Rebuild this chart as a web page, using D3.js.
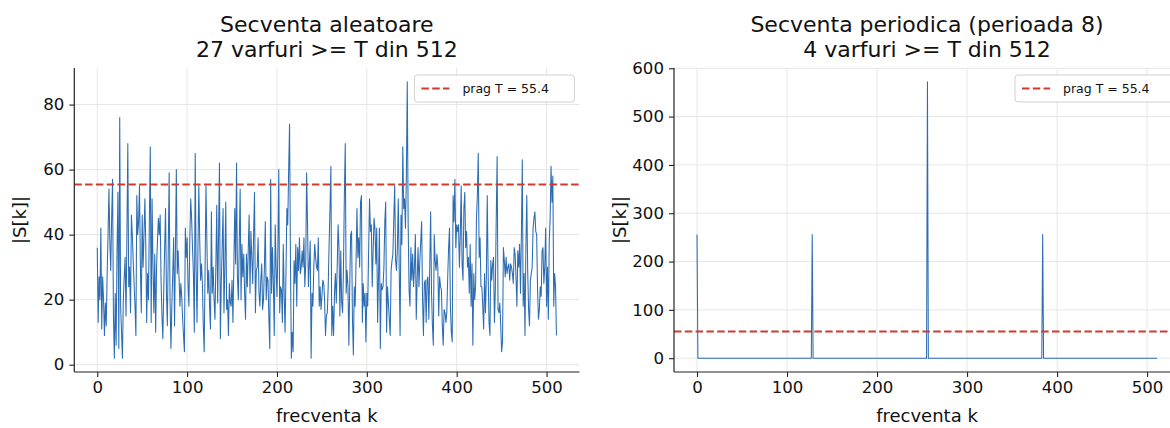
<!DOCTYPE html>
<html>
<head>
<meta charset="utf-8">
<script src="https://cdn.jsdelivr.net/npm/d3@7/dist/d3.min.js"></script>
<style>
  body { margin: 0; background: #fff; }
  svg { display: block; font-family: "DejaVu Sans", sans-serif; }
</style>
</head>
<body>
<svg id="fig" width="1170" height="428"></svg>
<script>
// valori |S[k]| - secventa aleatoare (k = 0..511)
var randomMag = [
  36,13,27,20,42,11,27,20,9,19, 12,28,40,54,38,29,45,57,15,2,
  22,6,35,53,5,76,18,10,2,20, 27,33,15,40,68,24,30,16,46,40,
  32,25,18,9,52,40,44,55,30,16, 46,30,40,51,37,13,28,20,45,67,
  13,51,30,16,34,10,30,38,45,40, 46,26,15,8,23,36,48,22,12,35,
  59,20,5,18,28,39,12,35,60,28, 35,27,18,25,21,14,9,4,42,33,
  39,25,18,39,51,45,36,28,10,65, 30,13,34,55,39,26,31,25,12,4,
  30,55,38,22,29,18,11,47,22,30, 20,14,31,49,19,40,62,8,25,36,
  48,16,30,50,17,20,9,25,19,18, 26,13,30,48,31,62,27,20,37,54,
  20,37,27,34,22,14,34,24,35,46, 22,41,33,25,40,53,16,29,30,39,
  22,18,26,31,17,20,30,44,20,27, 26,14,5,57,22,36,25,9,43,30,
  21,35,60,16,24,23,13,37,22,10, 28,48,43,60,74,32,2,10,4,32,
  25,37,18,36,29,39,28,30,35,30, 39,24,31,59,43,24,31,38,2,22,
  18,30,37,33,30,29,39,18,24,17, 21,26,25,20,9,15,16,24,37,48,
  61,9,18,9,22,28,19,30,43,36, 15,35,19,16,30,52,68,22,29,24,
  6,25,40,41,14,3,24,18,32,48, 33,39,30,50,52,13,25,18,22,7,
  22,18,35,51,41,43,24,35,45,42, 31,42,13,27,42,5,25,23,24,30,
  44,50,10,24,19,14,9,29,32,34, 45,55,32,29,36,51,30,9,46,37,
  67,48,51,42,58,87,43,23,18,36, 26,34,24,30,40,14,26,36,24,32,
  38,44,20,9,25,26,13,26,27,14, 30,47,22,12,6,40,32,29,34,30,
  15,27,24,23,12,6,17,16,13,16, 27,36,42,18,10,7,52,44,57,36,
  43,41,43,30,40,55,31,26,48,53, 36,41,30,33,22,37,18,31,6,28,
  20,24,45,52,65,33,39,24,24,18, 11,28,16,27,52,28,13,9,32,26,
  31,33,13,23,45,64,17,16,19,12, 4,7,36,32,27,33,28,30,31,26,
  31,30,28,25,36,34,27,18,35,30, 37,22,40,63,18,28,9,36,52,29,
  17,12,26,28,30,42,45,47,41,40, 23,14,17,24,21,35,36,25,30,42,
  18,30,14,38,45,61,50,58,18,28,24,9
];

// secventa periodica : doar cateva frecvente nenule, restul 0
var periodicPeakK = [0, 128, 256, 384];
var periodicPeakVal = [256, 256, 572, 256];
var N = 512;

var threshold = 55.4;
var legendLabel = "prag T = 55.4";

var xTicks = [0, 100, 200, 300, 400, 500];
var yTicksRandom = [0, 20, 40, 60, 80];
var yTicksPeriodic = [0, 100, 200, 300, 400, 500, 600];

var titlesRandom = ["Secventa aleatoare", "27 varfuri >= T din 512"];
var titlesPeriodic = ["Secventa periodica (perioada 8)", "4 varfuri >= T din 512"];

var periodicMag = [];
for (var ii = 0; ii < N; ii++) periodicMag.push(0);
for (ii = 0; ii < periodicPeakK.length; ii++) periodicMag[periodicPeakK[ii]] = periodicPeakVal[ii];

var LINE = "#2b6cb3", RED = "#cf3a2c", GRID = "#e6e6e6", INK = "#111";

var svg = d3.select("#fig");

function drawPanel(left, right, data, yTicks, titles) {
    var top = 68, bottom = 372;
    var n = data.length;
    // marge 5% comme matplotlib
    var xr = n - 1, xm = xr * 0.05;
    var ymin = d3.min(data), ymax = d3.max(data), ym = (ymax - ymin) * 0.05;
    var x = d3.scaleLinear().domain([-xm, xr + xm]).range([left, right]);
    var y = d3.scaleLinear().domain([ymin - ym, ymax + ym]).range([bottom, top]);

    var g = svg.append("g");

    // grille
    g.selectAll(".gx").data(xTicks).enter().append("line")
        .attr("x1", function(d){ return x(d); }).attr("x2", function(d){ return x(d); })
        .attr("y1", top).attr("y2", bottom)
        .attr("stroke", GRID).attr("stroke-width", 1);
    g.selectAll(".gy").data(yTicks).enter().append("line")
        .attr("x1", left).attr("x2", right)
        .attr("y1", function(d){ return y(d); }).attr("y2", function(d){ return y(d); })
        .attr("stroke", GRID).attr("stroke-width", 1);

    // courbe
    var line = d3.line().x(function(d, i){ return x(i); }).y(function(d){ return y(d); });
    g.append("path").datum(data)
        .attr("d", line).attr("fill", "none")
        .attr("stroke", LINE).attr("stroke-width", 1.05).attr("stroke-linejoin", "round");

    // seuil
    g.append("line")
        .attr("x1", left).attr("x2", right)
        .attr("y1", y(threshold)).attr("y2", y(threshold))
        .attr("stroke", RED).attr("stroke-width", 2).attr("stroke-dasharray", "7.5,3.3");

    // axes
    var ax = g.append("g").attr("transform", "translate(0," + bottom + ")")
        .call(d3.axisBottom(x).tickValues(xTicks).tickSizeInner(5).tickSizeOuter(0).tickPadding(4));
    var ay = g.append("g").attr("transform", "translate(" + left + ",0)")
        .call(d3.axisLeft(y).tickValues(yTicks).tickSizeInner(5).tickSizeOuter(0).tickPadding(5));
    [ax, ay].forEach(function(a){
        a.select(".domain").attr("stroke", "#222").attr("stroke-width", 1.2);
        a.selectAll(".tick line").attr("stroke", "#222").attr("stroke-width", 1.1);
        a.selectAll("text").attr("font-size", 16.6).attr("fill", INK)
            .attr("font-family", "DejaVu Sans, sans-serif");
    });
    ax.select(".domain").attr("d", "M" + left + ",0H" + right);
    ay.select(".domain").attr("d", "M0," + top + "V" + bottom);

    var cx = (left + right) / 2;
    // titre
    g.append("text").attr("x", cx).attr("y", 32).attr("text-anchor", "middle")
        .attr("font-size", 22).attr("fill", INK).text(titles[0]);
    g.append("text").attr("x", cx).attr("y", 57).attr("text-anchor", "middle")
        .attr("font-size", 22).attr("fill", INK).text(titles[1]);
    // labels
    g.append("text").attr("x", cx).attr("y", 422).attr("text-anchor", "middle")
        .attr("font-size", 18).attr("fill", INK).text("frecventa k");
    g.append("text").attr("transform", "translate(" + (left - 48) + "," + ((top + bottom) / 2) + ") rotate(-90)")
        .attr("text-anchor", "middle").attr("font-size", 18).attr("fill", INK).text("|S[k]|");

    // legende
    var lw = 160, lh = 27, lx = right - 5 - lw, ly = top + 7;
    g.append("rect").attr("x", lx).attr("y", ly).attr("width", lw).attr("height", lh)
        .attr("rx", 3).attr("fill", "#fff").attr("fill-opacity", 0.85)
        .attr("stroke", "#d0d0d0").attr("stroke-width", 1);
    g.append("line").attr("x1", lx + 7).attr("x2", lx + 35)
        .attr("y1", ly + lh / 2).attr("y2", ly + lh / 2)
        .attr("stroke", RED).attr("stroke-width", 2).attr("stroke-dasharray", "7.5,3.3");
    g.append("text").attr("x", lx + 48).attr("y", ly + lh / 2 + 4.5)
        .attr("font-size", 12.5).attr("fill", INK).text(legendLabel);
}

drawPanel(74.3, 579.4, randomMag, yTicksRandom, titlesRandom);
drawPanel(674, 1180, periodicMag, yTicksPeriodic, titlesPeriodic);
</script>
</body>
</html>
